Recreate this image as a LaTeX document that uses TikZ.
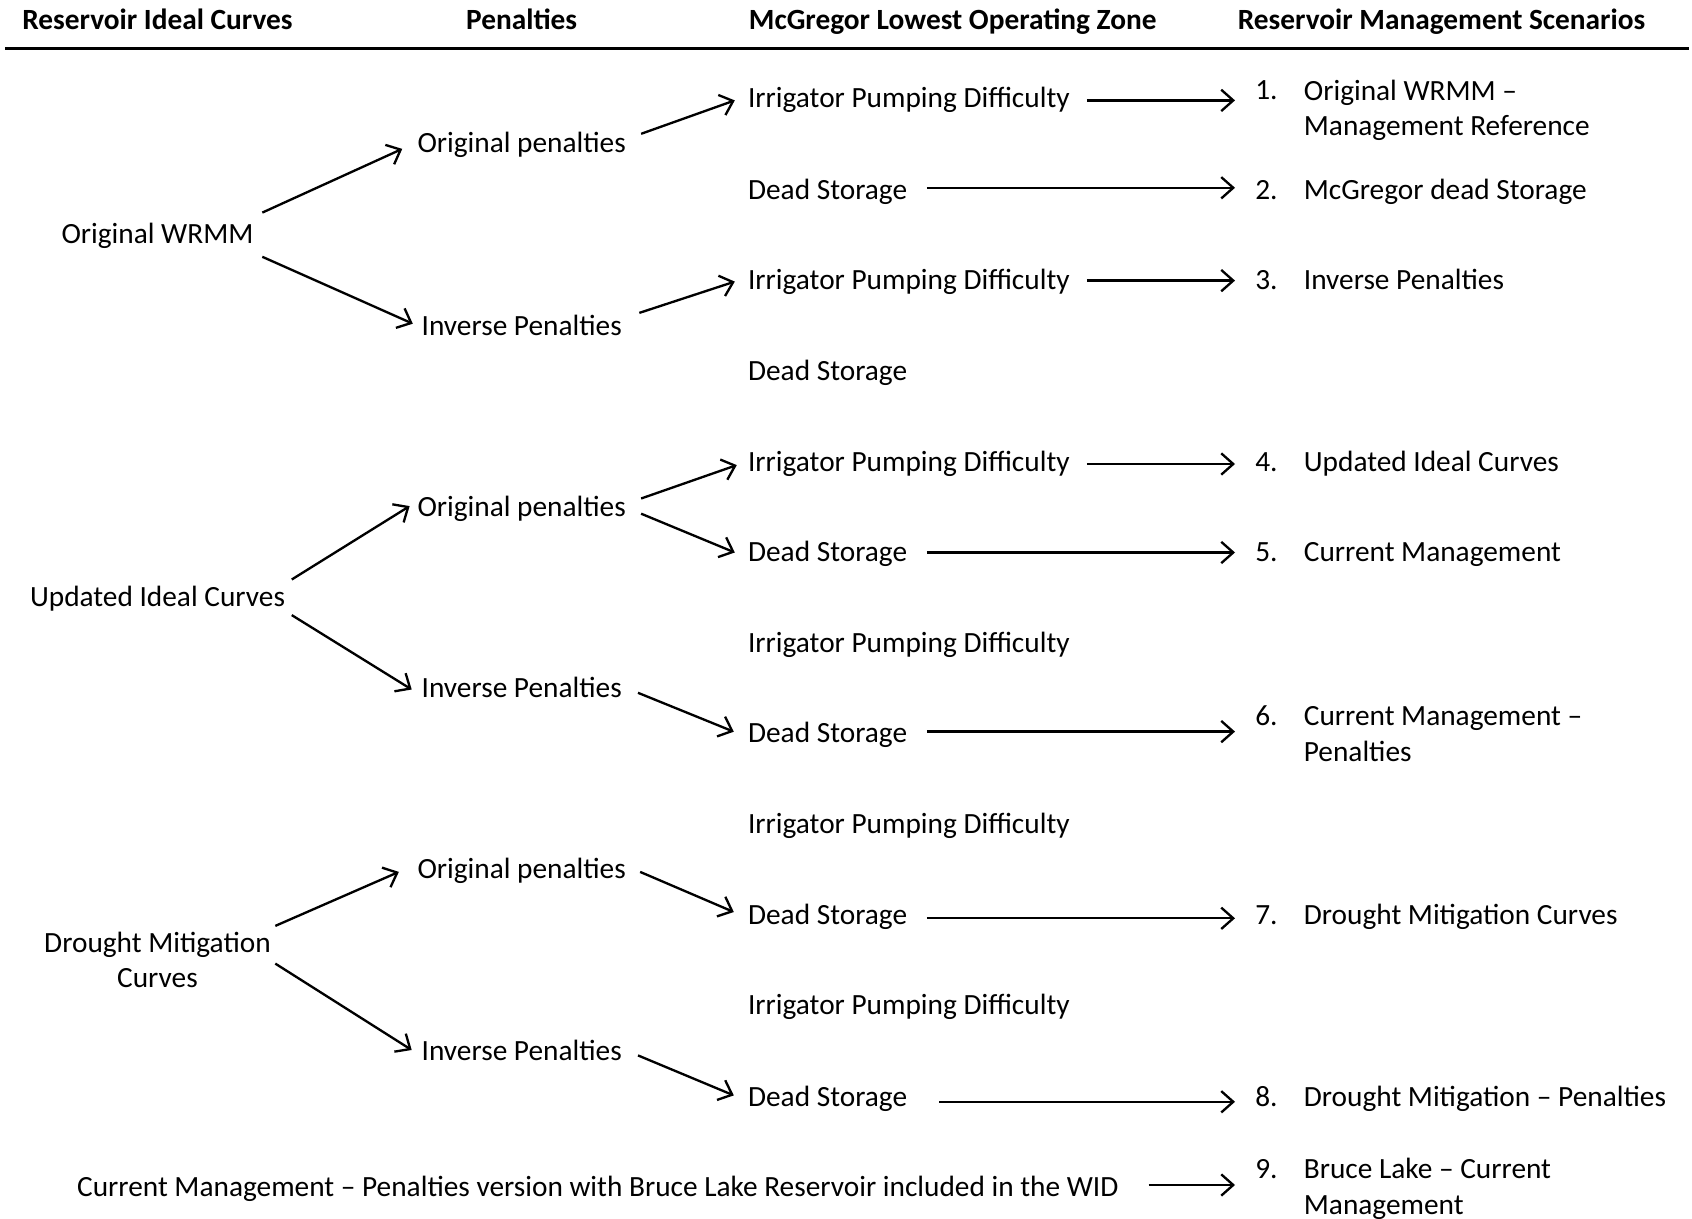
\documentclass[tikz,border=0pt]{standalone}
\usepackage{fontspec}
\setmainfont{Carlito}
\usetikzlibrary{arrows.meta}
\begin{document}
\begin{tikzpicture}[x=0.75pt,y=-0.75pt,
  every node/.style={font=\fontsize{22}{26.7}\selectfont, inner sep=0pt},
  oneline/.style={text height=20.2pt, text depth=4.8pt},
  head/.style={oneline, font=\fontsize{22}{26.7}\selectfont\bfseries},
  lft/.style={oneline, anchor=west},
  multi/.style={align=left, anchor=west},
  arr/.style={-{Straight Barb[length=9pt,width=16pt]}, line width=1.75pt},
  tonum/.style={arr, shorten >=15pt},
]
\useasboundingbox (0,0) rectangle (1692,1219);

% column headings and rule
\node[head] (h1) at (157.5,19.4) {Reservoir Ideal Curves};
\node[head] (h2) at (521.7,19.4) {Penalties};
\node[head] (h3) at (952.8,19.4) {McGregor Lowest Operating Zone};
\node[head] (h4) at (1441.6,19.4) {Reservoir Management Scenarios};
\draw[line width=1.75pt] (5.4,48.6) -- (1689,48.6);

% reservoir ideal curves
\node[oneline] (ow) at (157.5,233) {Original WRMM};
\node[oneline] (uic) at (157.5,596.7) {Updated Ideal Curves};
\node[align=center] (dmc) at (157.5,959.9) {Drought Mitigation\\Curves};

% penalties
\node[oneline] (op1) at (521.7,142.4) {Original penalties};
\node[oneline] (ip1) at (521.7,324.8) {Inverse Penalties};
\node[oneline] (op2) at (521.7,506.1) {Original penalties};
\node[oneline] (ip2) at (521.7,687.4) {Inverse Penalties};
\node[oneline] (op3) at (521.7,868.7) {Original penalties};
\node[oneline] (ip3) at (521.7,1050) {Inverse Penalties};

% lowest operating zone
\node[lft] (ipd1) at (747.8,97.1) {Irrigator Pumping Difficulty};
\node[lft] (ds1) at (747.8,188.8) {Dead Storage};
\node[lft] (ipd2) at (747.8,279.5) {Irrigator Pumping Difficulty};
\node[lft] (ds2) at (747.8,370.1) {Dead Storage};
\node[lft] (ipd3) at (747.8,460.8) {Irrigator Pumping Difficulty};
\node[lft] (ds3) at (747.8,551.4) {Dead Storage};
\node[lft] (ipd4) at (747.8,642) {Irrigator Pumping Difficulty};
\node[lft] (ds4) at (747.8,732.7) {Dead Storage};
\node[lft] (ipd5) at (747.8,823.4) {Irrigator Pumping Difficulty};
\node[lft] (ds5) at (747.8,914) {Dead Storage};
\node[lft] (ipd6) at (747.8,1004.6) {Irrigator Pumping Difficulty};
\node[lft] (ds6) at (747.8,1096.4) {Dead Storage};

% management scenarios
\node[lft] (n1) at (1255,89.6) {1.};
\node[multi] (s1) at (1303.6,110.5) {Original WRMM –\\Management Reference};
\node[lft] (n2) at (1255,188.8) {2.};
\node[lft] (s2) at (1303.6,188.8) {McGregor dead Storage};
\node[lft] (n3) at (1255,279.5) {3.};
\node[lft] (s3) at (1303.6,279.5) {Inverse Penalties};
\node[lft] (n4) at (1255,460.8) {4.};
\node[lft] (s4) at (1303.6,460.8) {Updated Ideal Curves};
\node[lft] (n5) at (1255,551.4) {5.};
\node[lft] (s5) at (1303.6,551.4) {Current Management};
\node[lft] (n6) at (1255,715.4) {6.};
\node[multi] (s6) at (1303.6,733.8) {Current Management –\\Penalties};
\node[lft] (n7) at (1255,914) {7.};
\node[lft] (s7) at (1303.6,914) {Drought Mitigation Curves};
\node[lft] (n8) at (1255,1096.4) {8.};
\node[lft] (s8) at (1303.6,1096.4) {Drought Mitigation – Penalties};
\node[lft] (n9) at (1255,1168.6) {9.};
\node[multi] (s9) at (1303.6,1189) {Bruce Lake – Current\\Management};

% Bruce Lake variant
\node[oneline] (cm) at (597.8,1186) {Current Management – Penalties version with Bruce Lake Reservoir included in the WID};

% curves -> penalties
\draw[arr] ([shift={(8.6,-20.4)}]ow.east) -- ([shift={(-15,6.5)}]op1.west);
\draw[arr] ([shift={(8.6,23.8)}]ow.east) -- ([shift={(-8.6,-1.1)}]ip1.west);
\draw[arr] ([shift={(6.5,-17.2)}]uic.east) -- ([shift={(-7.6,0)}]op2.west);
\draw[arr] ([shift={(6.5,18.4)}]uic.east) -- ([shift={(-9.7,2.1)}]ip2.west);
\draw[arr] ([shift={(4.3,-34)}]dmc.east) -- ([shift={(-18.4,3.2)}]op3.west);
\draw[arr] ([shift={(4.3,3.7)}]dmc.east) -- ([shift={(-9.7,0)}]ip3.west);

% penalties -> operating zone
\draw[arr] ([shift={(15,-8.6)}]op1.east) -- ([shift={(-13,3.3)}]ipd1.west);
\draw[arr] ([shift={(17.3,-11.9)}]ip1.east) -- ([shift={(-13,2.1)}]ipd2.west);
\draw[arr] ([shift={(15,-7.6)}]op2.east) -- ([shift={(-11,4.3)}]ipd3.west);
\draw[arr] ([shift={(15,7.6)}]op2.east) -- ([shift={(-13,1.1)}]ds3.west);
\draw[arr] ([shift={(16,5.4)}]ip2.east) -- ([shift={(-14,-1)}]ds4.west);
\draw[arr] ([shift={(14,3.2)}]op3.east) -- ([shift={(-14,-2)}]ds5.west);
\draw[arr] ([shift={(16,5.4)}]ip3.east) -- ([shift={(-14,-1)}]ds6.west);

% operating zone -> scenarios
\coordinate (c1) at ([shift={(17,3.3)}]ipd1.east);
\coordinate (c2) at ([shift={(19.5,-1)}]ds1.east);
\coordinate (c3) at ([shift={(17,1.1)}]ipd2.east);
\coordinate (c4) at ([shift={(17,3.2)}]ipd3.east);
\coordinate (c5) at ([shift={(19.5,1.1)}]ds3.east);
\coordinate (c6) at ([shift={(19.5,-1.1)}]ds4.east);
\coordinate (c7) at ([shift={(19.5,4.3)}]ds5.east);
\coordinate (c8) at ([shift={(32,5.4)}]ds6.east);
\coordinate (c9) at ([shift={(30,-1)}]cm.east);
\draw[tonum] (c1) -- (c1 -| n1.west);
\draw[tonum] (c2) -- (c2 -| n2.west);
\draw[tonum] (c3) -- (c3 -| n3.west);
\draw[tonum] (c4) -- (c4 -| n4.west);
\draw[tonum] (c5) -- (c5 -| n5.west);
\draw[tonum] (c6) -- (c6 -| n6.west);
\draw[tonum] (c7) -- (c7 -| n7.west);
\draw[tonum] (c8) -- (c8 -| n8.west);
\draw[tonum] (c9) -- (c9 -| n9.west);
\end{tikzpicture}
\end{document}
